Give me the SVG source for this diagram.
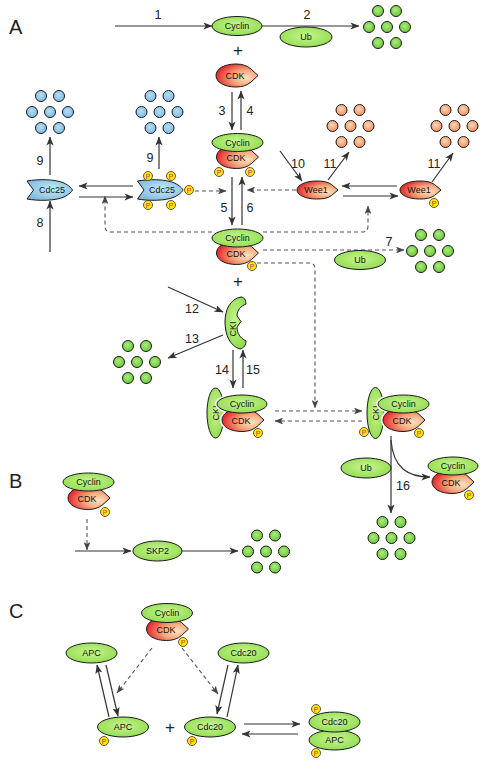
<svg xmlns="http://www.w3.org/2000/svg" xmlns:xlink="http://www.w3.org/1999/xlink" width="486" height="777" viewBox="0 0 486 777">
<style>
.ln{stroke:#333;stroke-width:1.2;fill:none}
.ds{stroke:#555;stroke-width:1.1;fill:none;stroke-dasharray:4 3}
.g{fill:url(#gGreen);stroke:#1a1a1a;stroke-width:1}
.cdk{fill:url(#gRed);stroke:#1a1a1a;stroke-width:1}
.blue{fill:url(#gBlue);stroke:#1a1a1a;stroke-width:1}
.wh{fill:none;stroke:#fff;stroke-width:4}
.dg{fill:url(#gDotG);stroke:#1a1a1a;stroke-width:1}
.db{fill:url(#gDotB);stroke:#1a1a1a;stroke-width:1}
.do{fill:url(#gDotO);stroke:#1a1a1a;stroke-width:1}
.t{font-family:"Liberation Sans",Arial,sans-serif;font-size:9px;fill:#111;text-anchor:middle}
.n{font-family:"Liberation Sans",Arial,sans-serif;font-size:12.5px;fill:#222;text-anchor:middle}
.big{font-family:"Liberation Sans",Arial,sans-serif;font-size:20px;fill:#222}
.pc{fill:#ffec00;stroke:#333;stroke-width:0.8}
.pt{font-family:"Liberation Sans",Arial,sans-serif;font-size:7px;fill:#e0207a;text-anchor:middle}
</style>
<defs>
<radialGradient id="gGreen" cx="50%" cy="45%" r="60%"><stop offset="0" stop-color="#c9f590"/><stop offset="1" stop-color="#8fdb4e"/></radialGradient>
<radialGradient id="gRed" cx="72%" cy="60%" r="75%"><stop offset="0" stop-color="#fde2bc"/><stop offset="0.45" stop-color="#f5a67c"/><stop offset="1" stop-color="#e31f26"/></radialGradient>
<radialGradient id="gBlue" cx="55%" cy="45%" r="65%"><stop offset="0" stop-color="#c8eaf7"/><stop offset="1" stop-color="#7ab8de"/></radialGradient>
<radialGradient id="gDotG" cx="45%" cy="40%" r="60%"><stop offset="0" stop-color="#a8ec78"/><stop offset="1" stop-color="#6cc83c"/></radialGradient>
<radialGradient id="gDotB" cx="45%" cy="40%" r="60%"><stop offset="0" stop-color="#b4dcf2"/><stop offset="1" stop-color="#80bde5"/></radialGradient>
<radialGradient id="gDotO" cx="45%" cy="40%" r="60%"><stop offset="0" stop-color="#fcd8b8"/><stop offset="1" stop-color="#f29060"/></radialGradient>
<marker id="ah" viewBox="0 0 10 8" refX="9.5" refY="4" markerWidth="9" markerHeight="7.2" markerUnits="userSpaceOnUse" orient="auto"><path d="M0,0 L10,4 L0,8 L2.5,4 Z" fill="#333"/></marker>
<marker id="ahd" viewBox="0 0 10 8" refX="9.5" refY="4" markerWidth="8.5" markerHeight="6.8" markerUnits="userSpaceOnUse" orient="auto"><path d="M0,0 L10,4 L0,8 L2.5,4 Z" fill="#444"/></marker>
<path id="cdkS" d="M21,0 L14,-6.5 C10,-10 5,-11.5 -1,-11.5 C-13,-11.5 -21,-6.5 -21,0 C-21,6.5 -13,11.5 -1,11.5 C5,11.5 10,10 14,6.5 Z"/>
<path id="weeS" d="M20.5,0 L14,-5.5 C10,-8.5 5,-9 -1,-9 C-12,-9 -20.5,-5 -20.5,0 C-20.5,5 -12,9 -1,9 C5,9 10,8.5 14,5.5 Z"/>
<path id="c25S" d="M-23,-9 C-12,-11 5,-11 14,-7 C19,-4.5 22,-1.5 22.5,0 C22,1.5 19,4.5 14,7 C5,11 -12,11 -23,9 L-16.5,0 Z"/>
<g id="dots"><circle cx="-9" cy="-16" r="5.5"/><circle cx="9" cy="-16" r="5.5"/><circle cx="-18" cy="0" r="5.5"/><circle cx="0" cy="0" r="5.5"/><circle cx="18" cy="0" r="5.5"/><circle cx="-9" cy="16" r="5.5"/><circle cx="9" cy="16" r="5.5"/></g>
<g id="P"><circle class="pc" r="4.5"/><text class="pt" y="2.5">P</text></g>
</defs>
<rect width="486" height="777" fill="#fff"/>

<g id="labels">
<text class="big" x="9" y="34">A</text>
<text class="big" x="9" y="488">B</text>
<text class="big" x="9" y="618">C</text>
<text class="n" x="158" y="19">1</text>
<text class="n" x="307" y="19">2</text>
<text class="n" x="222" y="115">3</text>
<text class="n" x="250" y="115">4</text>
<text class="n" x="224" y="212">5</text>
<text class="n" x="250" y="212">6</text>
<text class="n" x="389" y="246">7</text>
<text class="n" x="40" y="227">8</text>
<text class="n" x="40" y="165">9</text>
<text class="n" x="150" y="162">9</text>
<text class="n" x="298" y="168">10</text>
<text class="n" x="330" y="168">11</text>
<text class="n" x="434" y="168">11</text>
<text class="n" x="192" y="313">12</text>
<text class="n" x="192" y="343">13</text>
<text class="n" x="222" y="374">14</text>
<text class="n" x="253" y="374">15</text>
<text class="n" x="403" y="490">16</text>
<text class="n" x="238" y="56" style="font-size:17px">+</text>
<text class="n" x="238" y="287" style="font-size:17px">+</text>
<text class="n" x="170" y="733" style="font-size:17px">+</text>
</g>

<g id="connectors">
<line class="ln" x1="115" y1="26" x2="212" y2="26" marker-end="url(#ah)"/>
<line class="ln" x1="262" y1="26" x2="359" y2="26" marker-end="url(#ah)"/>
<line class="ln" x1="232" y1="92" x2="232" y2="130" marker-end="url(#ah)"/>
<line class="ln" x1="241" y1="130" x2="241" y2="91" marker-end="url(#ah)"/>
<line class="ln" x1="232" y1="177" x2="232" y2="225" marker-end="url(#ah)"/>
<line class="ln" x1="242" y1="225" x2="242" y2="177" marker-end="url(#ah)"/>
<line class="ln" x1="50" y1="252" x2="50" y2="201" marker-end="url(#ah)"/>
<line class="ln" x1="50" y1="175" x2="50" y2="137" marker-end="url(#ah)"/>
<line class="ln" x1="159" y1="169" x2="159" y2="137" marker-end="url(#ah)"/>
<line class="ln" x1="133" y1="186" x2="79" y2="186" marker-end="url(#ah)"/>
<line class="ln" x1="79" y1="197" x2="133" y2="197" marker-end="url(#ah)"/>
<line class="ds" x1="195" y1="191" x2="226" y2="191" marker-end="url(#ahd)"/>
<line class="ds" x1="296" y1="190" x2="247" y2="190" marker-end="url(#ahd)"/>
<path class="ds" d="M212,232 H111 Q105,232 105,226 V196" marker-end="url(#ahd)"/>
<path class="ds" d="M263,232 H362 Q368,232 368,226 V206" marker-end="url(#ahd)"/>
<line class="ds" x1="263" y1="250" x2="404" y2="250" marker-end="url(#ahd)"/>
<path class="ds" d="M257,263 H309 Q315,263 315,269 V408" marker-end="url(#ahd)"/>
<line class="ln" x1="397" y1="186" x2="342" y2="186" marker-end="url(#ah)"/>
<line class="ln" x1="343" y1="196" x2="398" y2="196" marker-end="url(#ah)"/>
<line class="ln" x1="280" y1="151" x2="302" y2="181" marker-end="url(#ah)"/>
<line class="ln" x1="328" y1="180" x2="349" y2="152" marker-end="url(#ah)"/>
<line class="ln" x1="432" y1="182" x2="453" y2="153" marker-end="url(#ah)"/>
<line class="ln" x1="168" y1="287" x2="223" y2="312" marker-end="url(#ah)"/>
<line class="ln" x1="223" y1="335" x2="168" y2="358" marker-end="url(#ah)"/>
<line class="ln" x1="233" y1="350" x2="233" y2="388" marker-end="url(#ah)"/>
<line class="ln" x1="243" y1="388" x2="243" y2="350" marker-end="url(#ah)"/>
<line class="ds" x1="275" y1="411" x2="362" y2="411" marker-end="url(#ahd)"/>
<line class="ds" x1="362" y1="421" x2="275" y2="421" marker-end="url(#ahd)"/>
<line class="ln" x1="391" y1="436" x2="391" y2="513" marker-end="url(#ah)"/>
<path class="ln" d="M391,440 C393,468 408,477 430,477" marker-end="url(#ah)"/>
<line class="ds" x1="87" y1="519" x2="87" y2="550" marker-end="url(#ahd)"/>
<line class="ln" x1="75" y1="551" x2="131" y2="551" marker-end="url(#ah)"/>
<line class="ln" x1="182" y1="551" x2="238" y2="551" marker-end="url(#ah)"/>
<line class="ln" x1="109" y1="717" x2="97" y2="665" marker-end="url(#ah)"/>
<line class="ln" x1="106" y1="665" x2="118" y2="716" marker-end="url(#ah)"/>
<line class="ds" x1="152" y1="648" x2="117" y2="693" marker-end="url(#ahd)"/>
<line class="ds" x1="182" y1="648" x2="218" y2="694" marker-end="url(#ahd)"/>
<line class="ln" x1="228" y1="665" x2="217" y2="714" marker-end="url(#ah)"/>
<line class="ln" x1="227" y1="717" x2="238" y2="665" marker-end="url(#ah)"/>
<line class="ln" x1="244" y1="724" x2="300" y2="724" marker-end="url(#ah)"/>
<line class="ln" x1="298" y1="734" x2="242" y2="734" marker-end="url(#ah)"/>
</g>

<g id="cyclin-top"><ellipse class="g" cx="237" cy="26" rx="25" ry="9.5"/><text class="t" x="237" y="29">Cyclin</text></g>
<g id="ub-top"><ellipse class="g" cx="306" cy="37" rx="26" ry="10"/><text class="t" x="306" y="40">Ub</text></g>
<g id="deg-top"><use xlink:href="#dots" href="#dots" class="dg" transform="translate(387,27)"/></g>
<g id="cdk-free"><use xlink:href="#cdkS" href="#cdkS" class="cdk" transform="translate(237,75.5)"/><text class="t" x="235" y="79">CDK</text></g>

<g id="complex-inactive">
<use xlink:href="#cdkS" href="#cdkS" class="cdk" transform="translate(237.5,157)"/><text class="t" x="236" y="161">CDK</text>
<ellipse class="g" cx="237.5" cy="142.5" rx="25.5" ry="9"/><text class="t" x="237.5" y="145.5">Cyclin</text>
<use xlink:href="#P" href="#P" transform="translate(219,172)"/><use xlink:href="#P" href="#P" transform="translate(250,172)"/>
</g>
<g id="complex-active">
<use xlink:href="#cdkS" href="#cdkS" class="cdk" transform="translate(237.5,253)"/><text class="t" x="236" y="257">CDK</text>
<ellipse class="g" cx="237.5" cy="238" rx="25.5" ry="9"/><text class="t" x="237.5" y="241">Cyclin</text>
<use xlink:href="#P" href="#P" transform="translate(252,266)"/>
</g>

<g id="deg-cdc25"><use xlink:href="#dots" href="#dots" class="db" transform="translate(50,112)"/></g>
<g id="deg-cdc25p"><use xlink:href="#dots" href="#dots" class="db" transform="translate(159.5,112)"/></g>
<g id="cdc25"><use xlink:href="#c25S" href="#c25S" class="blue" transform="translate(50,190)"/><text class="t" x="52" y="193">Cdc25</text></g>
<g id="cdc25p"><use xlink:href="#c25S" href="#c25S" class="blue" transform="translate(160.5,190)"/><text class="t" x="162" y="193">Cdc25</text>
<use xlink:href="#P" href="#P" transform="translate(148,176)"/><use xlink:href="#P" href="#P" transform="translate(171,176)"/><use xlink:href="#P" href="#P" transform="translate(189,190)"/><use xlink:href="#P" href="#P" transform="translate(148,205)"/><use xlink:href="#P" href="#P" transform="translate(171,205)"/></g>

<g id="wee1"><use xlink:href="#weeS" href="#weeS" class="cdk" transform="translate(317.5,190)"/><text class="t" x="316" y="193">Wee1</text></g>
<g id="wee1p"><use xlink:href="#weeS" href="#weeS" class="cdk" transform="translate(420.5,190)"/><text class="t" x="419" y="193">Wee1</text><use xlink:href="#P" href="#P" transform="translate(434,203)"/></g>
<g id="deg-wee1"><use xlink:href="#dots" href="#dots" class="do" transform="translate(350.5,126)"/></g>
<g id="deg-wee1p"><use xlink:href="#dots" href="#dots" class="do" transform="translate(454.5,126)"/></g>

<g id="ub-7"><ellipse class="g" cx="360" cy="260" rx="25.5" ry="9.5"/><text class="t" x="360" y="263">Ub</text></g>
<g id="deg-7"><use xlink:href="#dots" href="#dots" class="dg" transform="translate(430,251)"/></g>

<g id="cki"><path class="g" d="M241,297 C230,299 225,310 225,322 C225,335 230,346 240,349 C244,348 246,345 246,341 C240,338 237,333 237,327 L241,321.5 L237,316 C237,310 241,306 246,304 C246,300 244,297 241,297 Z"/><text class="t" transform="translate(232.5,329) rotate(-90)" y="3">CKI</text></g>
<g id="deg-cki"><use xlink:href="#dots" href="#dots" class="dg" transform="translate(137,362)"/></g>

<g id="cki-complex-1">
<ellipse class="g" cx="215.5" cy="413" rx="8.5" ry="25"/><text class="t" transform="translate(215.5,413) rotate(-90)" y="3">CKI</text>
<use xlink:href="#cdkS" href="#cdkS" class="wh" transform="translate(243,420)"/>
<ellipse class="wh" cx="242" cy="404" rx="25" ry="9"/>
<use xlink:href="#cdkS" href="#cdkS" class="cdk" transform="translate(243,420)"/><text class="t" x="241" y="424">CDK</text>
<ellipse class="g" cx="242" cy="404" rx="25" ry="9"/><text class="t" x="242" y="407">Cyclin</text>
<use xlink:href="#P" href="#P" transform="translate(258,433)"/>
</g>
<g id="cki-complex-2">
<ellipse class="g" cx="375.5" cy="413" rx="8.5" ry="25.5"/><text class="t" transform="translate(375.5,413) rotate(-90)" y="3">CKI</text>
<use xlink:href="#cdkS" href="#cdkS" class="wh" transform="translate(404,420)"/>
<ellipse class="wh" cx="403.5" cy="404" rx="25.5" ry="9"/>
<use xlink:href="#cdkS" href="#cdkS" class="cdk" transform="translate(404,420)"/><text class="t" x="402" y="424">CDK</text>
<ellipse class="g" cx="403.5" cy="404" rx="25.5" ry="9"/><text class="t" x="403.5" y="407">Cyclin</text>
<use xlink:href="#P" href="#P" transform="translate(419,433)"/><use xlink:href="#P" href="#P" transform="translate(364,432)"/>
</g>
<g id="ub-16"><ellipse class="g" cx="366" cy="468" rx="25" ry="10"/><text class="t" x="366" y="471">Ub</text></g>
<g id="complex-released">
<use xlink:href="#cdkS" href="#cdkS" class="cdk" transform="translate(453,482)"/><text class="t" x="451" y="486">CDK</text>
<ellipse class="g" cx="453" cy="466" rx="25" ry="9"/><text class="t" x="453" y="469">Cyclin</text>
<use xlink:href="#P" href="#P" transform="translate(469,495)"/>
</g>
<g id="deg-16"><use xlink:href="#dots" href="#dots" class="dg" transform="translate(391.5,538)"/></g>

<g id="b-complex">
<use xlink:href="#cdkS" href="#cdkS" class="cdk" transform="translate(89,498)"/><text class="t" x="87" y="502">CDK</text>
<ellipse class="g" cx="88.5" cy="482" rx="25.5" ry="9"/><text class="t" x="88.5" y="485">Cyclin</text>
<use xlink:href="#P" href="#P" transform="translate(105,512)"/>
</g>
<g id="skp2"><ellipse class="g" cx="157.5" cy="551" rx="24.5" ry="10"/><text class="t" x="157.5" y="554">SKP2</text></g>
<g id="deg-skp2"><use xlink:href="#dots" href="#dots" class="dg" transform="translate(266,551.5)"/></g>

<g id="c-complex">
<use xlink:href="#cdkS" href="#cdkS" class="cdk" transform="translate(167.5,629)"/><text class="t" x="166" y="633">CDK</text>
<ellipse class="g" cx="167" cy="613" rx="25.5" ry="9.5"/><text class="t" x="167" y="616">Cyclin</text>
<use xlink:href="#P" href="#P" transform="translate(183,642)"/>
</g>
<g id="apc"><ellipse class="g" cx="91.5" cy="653" rx="25.5" ry="10"/><text class="t" x="91.5" y="656">APC</text></g>
<g id="cdc20"><ellipse class="g" cx="243.5" cy="653" rx="25.5" ry="10"/><text class="t" x="243.5" y="656">Cdc20</text></g>
<g id="apc-p"><ellipse class="g" cx="123" cy="727" rx="25.5" ry="10"/><text class="t" x="123" y="730">APC</text><use xlink:href="#P" href="#P" transform="translate(104,741)"/></g>
<g id="cdc20-p"><ellipse class="g" cx="210" cy="727" rx="25.5" ry="10"/><text class="t" x="210" y="730">Cdc20</text><use xlink:href="#P" href="#P" transform="translate(192,741)"/></g>
<g id="apc-cdc20">
<ellipse class="g" cx="334.5" cy="740" rx="25.5" ry="10"/><text class="t" x="334.5" y="743">APC</text>
<ellipse class="g" cx="334.5" cy="722" rx="25.5" ry="10"/><text class="t" x="334.5" y="725">Cdc20</text>
<use xlink:href="#P" href="#P" transform="translate(316,709)"/><use xlink:href="#P" href="#P" transform="translate(316,753)"/>
</g>
</svg>
